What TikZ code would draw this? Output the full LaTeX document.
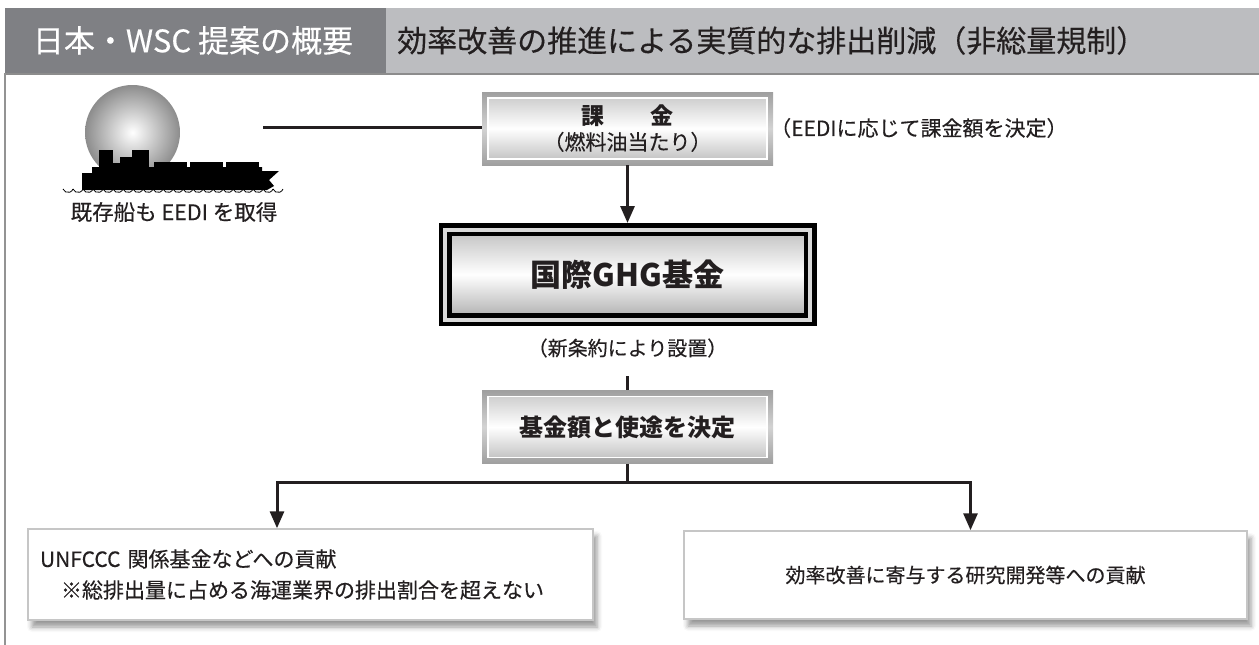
\documentclass[tikz,border=0pt]{standalone}
\usepackage{fontspec}
\setmainfont{Noto Sans CJK JP}[UprightFeatures={FakeBold=0.35}]
\usetikzlibrary{shapes.geometric, arrows.meta, shadows.blur}
\definecolor{headdark}{HTML}{7F8084}
\definecolor{headlight}{HTML}{BCBDC0}
\definecolor{ink}{HTML}{231F20}
\tikzstyle{note} = [rectangle, inner sep=0pt, text=ink, font=\fontsize{20}{24}\selectfont]
\tikzstyle{metal} = [rectangle, minimum width=291pt, minimum height=73pt, inner sep=0pt, text=ink,
    top color=gray!75, bottom color=gray!75, middle color=gray!35,
    path picture={\draw[white, line width=1.5pt, top color=gray!45, bottom color=gray!55, middle color=white]
      ([xshift=6pt,yshift=-6pt]path picture bounding box.north west) rectangle
      ([xshift=-6pt,yshift=6pt]path picture bounding box.south east);}]
\tikzstyle{fund} = [rectangle, minimum width=365pt, minimum height=90pt, inner sep=0pt, outer sep=6.5pt,
    draw=black, line width=4.5pt, double=gray!30, double distance=4pt, text=ink,
    top color=gray!50, bottom color=gray!65, middle color=white]
\tikzstyle{goal} = [rectangle, draw=gray!45, line width=1.5pt, fill=white, inner sep=0pt, text=ink,
    font=\fontsize{20}{31}\selectfont,
    blur shadow={shadow xshift=4pt, shadow yshift=-7pt, shadow blur radius=5pt}]
\tikzstyle{line} = [line width=3pt, ink]
\tikzstyle{arrow} = [line, -{Triangle[length=17pt, width=14pt]}]

\begin{document}
\begin{tikzpicture}[x=1pt, y=1pt, node distance=146pt]
    \useasboundingbox (0,0) rectangle (1259,-645);

    % header
    \fill[headlight] (5,-8) rectangle (1259,-73);
    \fill[headdark] (5,-8) rectangle (386,-73);
    \draw[gray!90, line width=2pt] (5,-74) -- (1259,-74);
    \draw[gray!85, line width=2pt] (5,-73) -- (5,-645);
    \node [note, text=white, font=\fontsize{31}{31}\selectfont] (title) at (193,-40.5) {日本・WSC 提案の概要};
    \node [note, anchor=west, font=\fontsize{30}{30}\selectfont] (subtitle) at (397,-40.5) {効率改善の推進による実質的な排出削減（非総量規制）};

    % ship
    \shade[inner color=white, outer color=gray!90] (132.5,-132.5) circle (47.5);
    \fill[black] (99,-168) rectangle (113,-150);
    \fill[black] (113,-168) rectangle (120,-163);
    \fill[black] (120,-168) rectangle (132,-157);
    \fill[black] (132,-168) rectangle (149,-150);
    \fill[black] (154,-168) rectangle (187,-162);
    \fill[black] (190,-168) rectangle (223,-162);
    \fill[black] (226,-168) rectangle (259,-162);
    \fill[black] (82,-190) -- (82,-173) -- (92,-173) -- (92,-167) -- (262,-167) -- (262,-171)
        -- (279,-171) -- (269,-180) -- (274,-186) -- (267,-190) -- cycle;
    \foreach \i in {0,...,21}
        \draw[line width=0.8pt] ({63+10*\i},-189) arc[start angle=200, end angle=340, radius=5.32];
    \node [note, font=\fontsize{21.5}{24}\selectfont] (shipcap) at (174,-212) {既存船も EEDI を取得};
    \coordinate (shipend) at (263,-127);

    \node [metal, align=center, font=\fontsize{21}{26}\selectfont] (fee) at (627.5,-128.5)
        {{\bfseries\fontsize{23}{26}\selectfont 課\hspace{2em}金}\\[-1pt]（燃料油当たり）};
    \node [note, anchor=west, font=\fontsize{21}{24}\selectfont] (rate) at (770,-128) {（EEDIに応じて課金額を決定）};
    \node [fund, below of=fee, font=\bfseries\fontsize{31}{31}\selectfont] (fund) {国際GHG基金};
    \node [note, below of=fund, node distance=73.5pt, minimum height=56pt] (setup) {（新条約により設置）};
    \node [metal, below of=setup, node distance=79pt, font=\bfseries\fontsize{24}{24}\selectfont] (decide) {基金額と使途を決定};

    \node [goal, minimum width=565pt, minimum height=91pt, text width=541pt, align=left,
        font=\fontsize{21}{31}\selectfont] (unfccc) at (310.5,-574.5)
        {UNFCCC 関係基金などへの貢献\\\hspace{1em}※総排出量に占める海運業界の排出割合を超えない};
    \node [goal, minimum width=563pt, minimum height=88pt] (research) at (965.5,-575) {効率改善に寄与する研究開発等への貢献};

    \draw [line] (shipend) -- (shipend -| fee.west);
    \draw [arrow] (fee.south) -- (fund.north);
    \draw [line] (setup.south) -- (decide.north);
    \draw [line] (decide.south) -- ++(0,-19) coordinate (split);
    \draw [arrow] (split) -| ([xshift=-33.5pt]unfccc.north);
    \draw [arrow] (split) -| ([xshift=5pt]research.north);
\end{tikzpicture}
\end{document}
